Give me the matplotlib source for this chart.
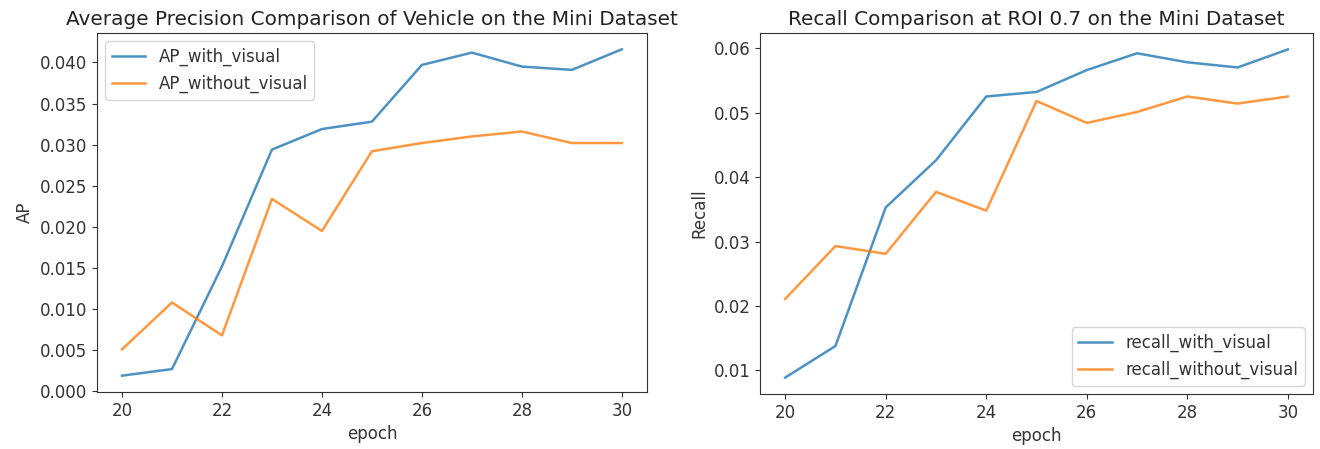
import numpy as np
import matplotlib
matplotlib.use("Agg")
import matplotlib.pyplot as plt

epochs = list(range(20, 31))

ap_with_visual = [0.0019, 0.0027, 0.0152, 0.0294, 0.0319, 0.0328,
                  0.0397, 0.0412, 0.0395, 0.0391, 0.0416]
ap_without_visual = [0.0051, 0.0108, 0.0068, 0.0234, 0.0195, 0.0292,
                     0.0302, 0.0310, 0.0316, 0.0302, 0.0302]

recall_with_visual = [0.0089, 0.0138, 0.0353, 0.0426, 0.0525, 0.0532,
                      0.0566, 0.0592, 0.0578, 0.0570, 0.0598]
recall_without_visual = [0.0211, 0.0293, 0.0281, 0.0377, 0.0348, 0.0518,
                         0.0484, 0.0501, 0.0525, 0.0514, 0.0525]

FS = 12
TITLE_FS = 14.4


def draw(ax, with_v, without_v, names, ylabel, title, loc):
    ax.plot(epochs, with_v, color="#1f77b4", alpha=0.8, lw=1.8, label=names[0])
    ax.plot(epochs, without_v, color="#ff7f0e", alpha=0.8, lw=1.8, label=names[1])
    ax.set_xticks([20, 22, 24, 26, 28, 30])
    ax.tick_params(labelsize=FS, colors="#333333")
    for s in ax.spines.values():
        s.set_color("#333333")
    ax.set_xlabel("epoch", fontsize=FS, color="#333333")
    ax.set_ylabel(ylabel, fontsize=FS, color="#333333")
    ax.set_title(title, fontsize=TITLE_FS, color="#222222")
    leg = ax.legend(loc=loc, fontsize=FS)
    for t in leg.get_texts():
        t.set_color("#333333")


fig = plt.figure(figsize=(13.2, 4.49), dpi=100)
ax1 = fig.add_axes([0.0735, 0.127, 0.4165, 0.7995])
ax2 = fig.add_axes([0.5758, 0.1225, 0.4189, 0.804])

draw(ax1, ap_with_visual, ap_without_visual,
     ["AP_with_visual", "AP_without_visual"], "AP",
     "Average Precision Comparison of Vehicle on the Mini Dataset", "upper left")
ax1.yaxis.set_major_formatter(matplotlib.ticker.FormatStrFormatter("%.3f"))

draw(ax2, recall_with_visual, recall_without_visual,
     ["recall_with_visual", "recall_without_visual"], "Recall",
     "Recall Comparison at ROI 0.7 on the Mini Dataset", "lower right")
ax2.yaxis.set_major_formatter(matplotlib.ticker.FormatStrFormatter("%.2f"))

fig.savefig("out.png", dpi=100)
